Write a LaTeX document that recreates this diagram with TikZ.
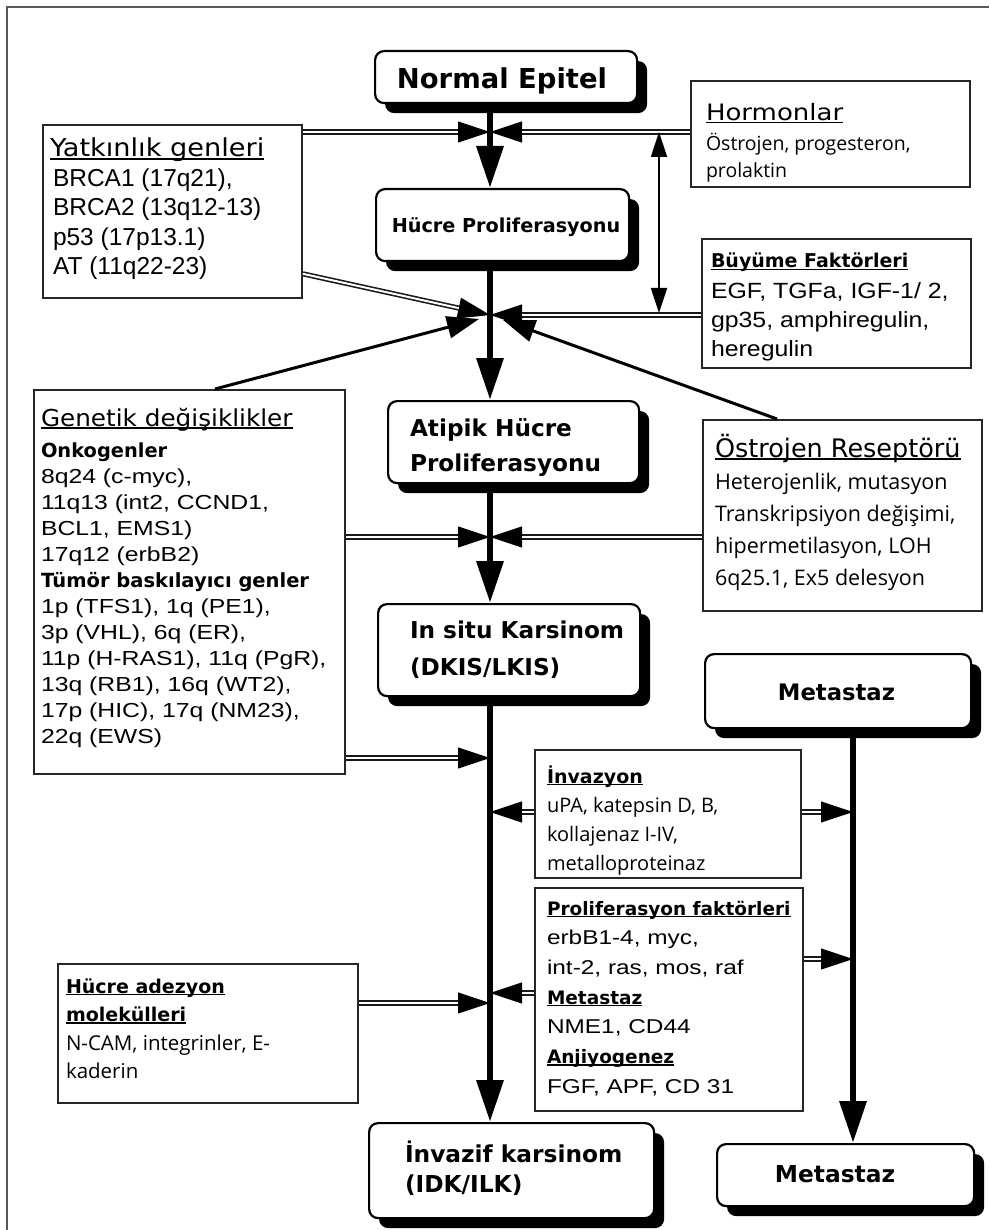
\documentclass[tikz,border=0pt]{standalone}
\usepackage{fontspec}
\usepackage{graphicx}
\usetikzlibrary{arrows.meta,shadows,calc}
\newfontfamily\luc{DejaVu Sans}
\newfontfamily\ari{Liberation Sans}
\newfontfamily\seg{Open Sans}
\newlength\ulw
\newcommand\ul[1]{\settowidth\ulw{#1}\rlap{\rule[-0.11em]{\ulw}{0.065em}}#1}
\newcommand\sx[2]{\scalebox{#1}[1]{#2}}
\newcommand\blk[2]{{#1\begin{tabular}[t]{@{}l@{}}#2\end{tabular}}}
\newcommand\bt[2]{{\luc\bfseries\fontsize{#1}{#1}\selectfont\ul{#2}}}
\newcommand\rt[3]{{\luc\fontsize{#1}{#1}\selectfont\sx{#2}{\ul{#3}}}}
\newcommand\dbla[2]{\draw[headarr] #1 -- #2; \draw[dbl, shorten >=32pt] #1 -- #2;}
\begin{document}
\begin{tikzpicture}[x=1pt,y=-1pt,
  mbox/.style={draw=black, line width=2.2pt, rounded corners=9pt, fill=white,
    drop shadow={shadow xshift=10pt, shadow yshift=-10pt, opacity=1, fill=black},
    anchor=north west, inner sep=0pt},
  rbox/.style={draw=black!85, line width=1.8pt, fill=white, anchor=north west, inner sep=0pt},
  txt/.style={anchor=base west, inner sep=0pt, outer sep=0pt},
  ctxt/.style={anchor=base, inner sep=0pt, outer sep=0pt},
  mainarr/.style={line width=6.5pt, -{Triangle[length=42pt,width=26pt]}},
  headarr/.style={line width=1pt, -{Triangle[length=32pt,width=21pt]}},
  dbl/.style={draw=black!90, line width=1.6pt, double=white, double distance=2pt},
  thickarr/.style={line width=3pt, -{Triangle[length=32pt,width=22pt]}},
  vdarr/.style={line width=1.8pt, {Triangle[length=25pt,width=16pt]}-{Triangle[length=25pt,width=16pt]}}
]
\fill[white] (0,0) rectangle (989,1230);
\useasboundingbox (0,0) rectangle (989,1230);
\draw[black!65, line width=1.5pt] (7,1230) -- (7,7) -- (989,7);

% main rounded boxes
\node[mbox, minimum width=262pt, minimum height=52pt] (epitel) at (374,50) {};
\node[mbox, minimum width=253pt, minimum height=72pt] (hucre) at (375,188) {};
\node[mbox, minimum width=251pt, minimum height=82pt] (atipik) at (387,400) {};
\node[mbox, minimum width=262pt, minimum height=92pt] (insitu) at (377,603) {};
\node[mbox, minimum width=266pt, minimum height=74pt] (met1) at (704,653) {};
\node[mbox, minimum width=285pt, minimum height=95pt] (invazif) at (368,1122) {};
\node[mbox, minimum width=257pt, minimum height=62pt] (met2) at (716,1143) {};

% rectangular boxes
\node[rbox, minimum width=259pt, minimum height=173pt] (yatkin) at (42,124) {};
\node[rbox, minimum width=279pt, minimum height=106pt] (hormon) at (690,80) {};
\node[rbox, minimum width=269pt, minimum height=129pt] (buyume) at (701,238) {};
\node[rbox, minimum width=311pt, minimum height=384pt] (genetik) at (33,389) {};
\node[rbox, minimum width=279pt, minimum height=191pt] (ostrojen) at (702,419) {};
\node[rbox, minimum width=266pt, minimum height=128pt] (invazyon) at (534,749) {};
\node[rbox, minimum width=268pt, minimum height=223pt] (prolif) at (534,887) {};
\node[rbox, minimum width=300pt, minimum height=139pt] (adezyon) at (57,963) {};

% crossing points
\coordinate (cA) at (490,132);
\coordinate (cB) at (490,315);
\coordinate (cBl) at (479,319);
\coordinate (cBr) at (503,320);
\coordinate (cC) at (490,537);
\coordinate (cD) at (490,758);
\coordinate (cE) at (490,812);
\coordinate (cE2) at (853,812);
\coordinate (cF) at (490,993);
\coordinate (cF2) at (490,1003);
\coordinate (cG) at (853,959);
\coordinate (xM) at (853,0);
\coordinate (hA) at (659,132);
\coordinate (hB) at (659,313);

% side connectors
\dbla{(yatkin.east |- cA)}{(cA)}
\dbla{(hormon.west |- cA)}{(cA)}
\dbla{(buyume.west |- cB)}{(cB)}
\dbla{($(yatkin.south east)+(0,-25)$)}{(cB)}
\draw[thickarr] ($(genetik.north west)+(182,0)$) -- (cBl);
\draw[thickarr] ($(ostrojen.north west)+(75,0)$) -- (cBr);
\draw[vdarr] (hA) -- (hB);
\dbla{(genetik.east |- cC)}{(cC)}
\dbla{(ostrojen.west |- cC)}{(cC)}
\dbla{(genetik.east |- cD)}{(cD)}
\dbla{(invazyon.west |- cE)}{(cE)}
\dbla{(invazyon.east |- cE2)}{(cE2)}
\dbla{(prolif.west |- cF)}{(cF)}
\dbla{(adezyon.east |- cF2)}{(cF2)}
\dbla{(prolif.east |- cG)}{(cG)}

% main flow
\draw[mainarr] (epitel.south -| cA) -- (hucre.north -| cA);
\draw[mainarr] (hucre.south -| cA) -- (atipik.north -| cA);
\draw[mainarr] (atipik.south -| cA) -- (insitu.north -| cA);
\draw[mainarr] (insitu.south -| cA) -- (invazif.north -| cA);
\draw[mainarr] (met1.south -| xM) -- (met2.north -| xM);

% main box texts
\node[ctxt] (epitelT) at (502,89) {\luc\bfseries\fontsize{27.4}{30}\selectfont Normal Epitel};
\node[ctxt] (hucreT) at (506,233) {\luc\bfseries\fontsize{19.2}{22}\selectfont Hücre Proliferasyonu};
\node[txt] (atipikT) at (410,436) {\blk{\luc\bfseries\fontsize{23.2}{35}\selectfont}{Atipik Hücre\\Proliferasyonu}};
\node[txt] (insituT) at (410,638) {\blk{\luc\bfseries\fontsize{23.2}{37}\selectfont}{In situ Karsinom\\(DKIS/LKIS)}};
\node[ctxt] (met1T) at (836.5,700) {\luc\bfseries\fontsize{22.7}{26}\selectfont Metastaz};
\node[txt] (invazifT) at (405,1162) {\blk{\luc\bfseries\fontsize{23.3}{30}\selectfont}{İnvazif karsinom\\(IDK/ILK)}};
\node[ctxt] (met2T) at (835,1182) {\luc\bfseries\fontsize{23.3}{26}\selectfont Metastaz};

% box texts
\node[txt] (yatkinT) at (50,157) {\blk{\ari\fontsize{24.5}{29.5}\selectfont}{\rt{24.7}{1.1}{Yatkınlık genleri}\\
 \hspace{3pt}BRCA1 (17q21),\\ \hspace{3pt}BRCA2 (13q12-13)\\ \hspace{3pt}p53 (17p13.1)\\ \hspace{3pt}AT (11q22-23)}};
\node[txt] (hormonT) at (706,121) {\blk{\seg\fontsize{19.5}{27}\selectfont}{\rt{22.6}{1.15}{Hormonlar}\\[3pt]
 Östrojen, progesteron,\\ prolaktin}};
\node[txt] (buyumeT) at (711,268) {\blk{\ari\fontsize{22}{29}\selectfont}{\bt{19}{Büyüme Faktörleri}\\[2pt]
 \sx{1.13}{EGF, TGFa, IGF-1/ 2,}\\ \sx{1.13}{gp35, amphiregulin,}\\ \sx{1.13}{heregulin}}};
\node[txt] (genetikT) at (41,426) {\blk{\ari\fontsize{20.3}{26}\selectfont}{\rt{23.3}{1.06}{Genetik değişiklikler}\\[5pt]
 {\luc\bfseries\fontsize{19.4}{19.4}\selectfont Onkogenler}\\
 \sx{1.22}{8q24 (c-myc),}\\
 \sx{1.22}{11q13 (int2, CCND1,}\\
 \sx{1.22}{BCL1, EMS1)}\\
 \sx{1.22}{17q12 (erbB2)}\\
 {\luc\bfseries\fontsize{19.5}{19.5}\selectfont Tümör baskılayıcı genler}\\
 \sx{1.22}{1p (TFS1), 1q (PE1),}\\
 \sx{1.22}{3p (VHL), 6q (ER),}\\
 \sx{1.22}{11p (H-RAS1), 11q (PgR),}\\
 \sx{1.22}{13q (RB1), 16q (WT2),}\\
 \sx{1.22}{17p (HIC), 17q (NM23),}\\
 \sx{1.22}{22q (EWS)}}};
\node[txt] (ostrojenT) at (715,457) {\blk{\seg\fontsize{21.5}{32}\selectfont}{\rt{25.5}{1}{Östrojen Reseptörü}\\
 Heterojenlik, mutasyon\\ Transkripsiyon değişimi,\\ hipermetilasyon, LOH\\ 6q25.1, Ex5 delesyon}};
\node[txt] (invazyonT) at (547,783) {\blk{\seg\fontsize{20}{29}\selectfont}{\bt{19}{İnvazyon}\\
 uPA, katepsin D, B,\\ kollajenaz I-IV,\\ metalloproteinaz}};
\node[txt] (prolifT) at (547,915) {\blk{\ari\fontsize{20}{29.7}\selectfont}{\bt{18.5}{Proliferasyon faktörleri}\\
 \sx{1.22}{erbB1-4, myc,}\\ \sx{1.22}{int-2, ras, mos, raf}\\ \bt{18.5}{Metastaz}\\
 \sx{1.22}{NME1, CD44}\\ \bt{18.5}{Anjiyogenez}\\ \sx{1.22}{FGF, APF, CD 31}}};
\node[txt] (adezyonT) at (66,993) {\blk{\seg\fontsize{20.5}{28.5}\selectfont}{\bt{19}{Hücre adezyon}\\
 \bt{19}{molekülleri}\\ N-CAM, integrinler, E-\\ kaderin}};
\end{tikzpicture}
\end{document}
